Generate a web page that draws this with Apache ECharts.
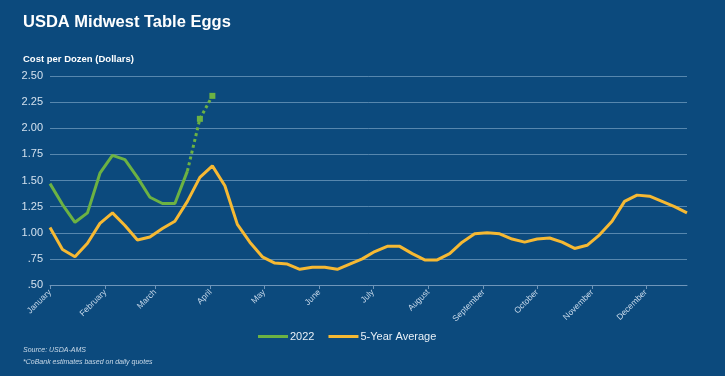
<!DOCTYPE html>
<html>
<head>
<meta charset="utf-8">
<script src="https://cdn.jsdelivr.net/npm/echarts@6/dist/echarts.min.js"></script>
<style>
  html, body { margin: 0; padding: 0; background: #0c4a7d; }
  #chart { width: 725px; height: 376px; }
</style>
</head>
<body>
<div id="chart"></div>
<script>
// weekly quotes, Jan 1 onward (dollars per dozen)
var months = ['January', 'February', 'March', 'April', 'May', 'June', 'July',
              'August', 'September', 'October', 'November', 'December'];
var monthStart = [0, 31, 59, 90, 120, 151, 181, 212, 243, 273, 304, 334];

var eggs2022 = [1.47, 1.27, 1.10, 1.19, 1.57, 1.74, 1.70, 1.53, 1.34, 1.28, 1.28, 1.59];
// CoBank estimates (weeks 12-13), joined to the last actual
var eggs2022Est = [1.59, 2.09, 2.31];
var estStartWeek = 11;

var fiveYearAvg = [1.05, 0.84, 0.77, 0.90, 1.09, 1.19, 1.07, 0.93, 0.96, 1.04, 1.11, 1.30,
                   1.53, 1.64, 1.45, 1.08, 0.91, 0.77, 0.71, 0.70, 0.65, 0.67, 0.67, 0.65,
                   0.70, 0.75, 0.82, 0.87, 0.87, 0.80, 0.74, 0.74, 0.80, 0.91, 0.99, 1.00,
                   0.99, 0.94, 0.91, 0.94, 0.95, 0.91, 0.85, 0.88, 0.98, 1.11, 1.30, 1.36,
                   1.35, 1.30, 1.25, 1.19];

var yTicks = { min: 0.5, max: 2.5, step: 0.25 };

var lastDay = (fiveYearAvg.length - 1) * 7;
var days = [];
for (var d = 0; d <= lastDay; d++) days.push(String(d));

function weekly(values, offset) {
  return values.map(function (v, i) { return [(i + offset) * 7, v]; });
}
var isMonthStart = function (idx) { return monthStart.indexOf(idx) >= 0; };

var chart = echarts.init(document.getElementById('chart'));
var fam = 'Liberation Sans, Arial, sans-serif';

var option = {
  backgroundColor: '#0c4a7d',
  animation: false,
  title: [
    { text: 'USDA Midwest Table Eggs', left: 18, top: 9,
      textStyle: { color: '#ffffff', fontSize: 16.5, fontWeight: 'bold', fontFamily: fam } },
    { text: 'Cost per Dozen (Dollars)', left: 18, top: 49,
      textStyle: { color: '#ffffff', fontSize: 9.5, fontWeight: 'bold',
                   fontFamily: 'Liberation Sans Narrow, Liberation Sans, sans-serif' } },
    { text: 'Source: USDA-AMS\n*CoBank estimates based on daily quotes', left: 18, top: 339,
      textStyle: { color: '#c9d9e8', fontSize: 7, fontStyle: 'italic', fontWeight: 'normal',
                   lineHeight: 12, fontFamily: fam } }
  ],
  legend: {
    data: ['2022', '5-Year Average'],
    left: 253, top: 326,
    icon: 'rect', itemWidth: 30, itemHeight: 3, itemGap: 14,
    textStyle: { color: '#e8f0f7', fontSize: 11, fontFamily: fam, padding: [0, 0, 0, -3] }
  },
  grid: { left: 50, right: 38, top: 76, bottom: 91 },
  xAxis: {
    type: 'category',
    data: days,
    boundaryGap: false,
    axisLine: { lineStyle: { color: '#6f96ba', width: 1 } },
    axisTick: { interval: isMonthStart, length: 4, lineStyle: { color: '#6f96ba' } },
    axisLabel: {
      interval: isMonthStart,
      rotate: 45,
      margin: 6,
      color: '#c6d8ea',
      fontSize: 8.5,
      fontFamily: fam,
      formatter: function (val) { return months[monthStart.indexOf(Number(val))] || ''; }
    },
    splitLine: { show: false }
  },
  yAxis: {
    type: 'value',
    min: yTicks.min, max: yTicks.max, interval: yTicks.step,
    axisLine: { show: false },
    axisTick: { show: false },
    axisLabel: {
      color: '#d3e1ee', fontSize: 11, margin: 7, fontFamily: fam,
      formatter: function (v) { return v < 1 ? v.toFixed(2).replace(/^0/, '') : v.toFixed(2); }
    },
    splitLine: { lineStyle: { color: 'rgba(150,185,215,0.55)', width: 1 } }
  },
  series: [
    {
      name: '2022', type: 'line', data: weekly(eggs2022, 0),
      symbol: 'none', z: 3,
      itemStyle: { color: '#6cb243' },
      lineStyle: { color: '#6cb243', width: 3 }
    },
    {
      name: '2022 estimate', type: 'line',
      data: weekly(eggs2022Est, estStartWeek).map(function (p, i) {
        return i === 0 ? { value: p, symbol: 'none' } : { value: p };
      }),
      symbol: 'rect', symbolSize: 6, showSymbol: true, showAllSymbol: true, z: 3,
      itemStyle: { color: '#6cb243' },
      lineStyle: { color: '#6cb243', width: 3, type: [3, 3] }
    },
    {
      name: '5-Year Average', type: 'line', data: weekly(fiveYearAvg, 0),
      symbol: 'none', z: 2,
      itemStyle: { color: '#f6b933' },
      lineStyle: { color: '#f6b933', width: 3 }
    }
  ]
};

chart.setOption(option);
</script>
</body>
</html>
